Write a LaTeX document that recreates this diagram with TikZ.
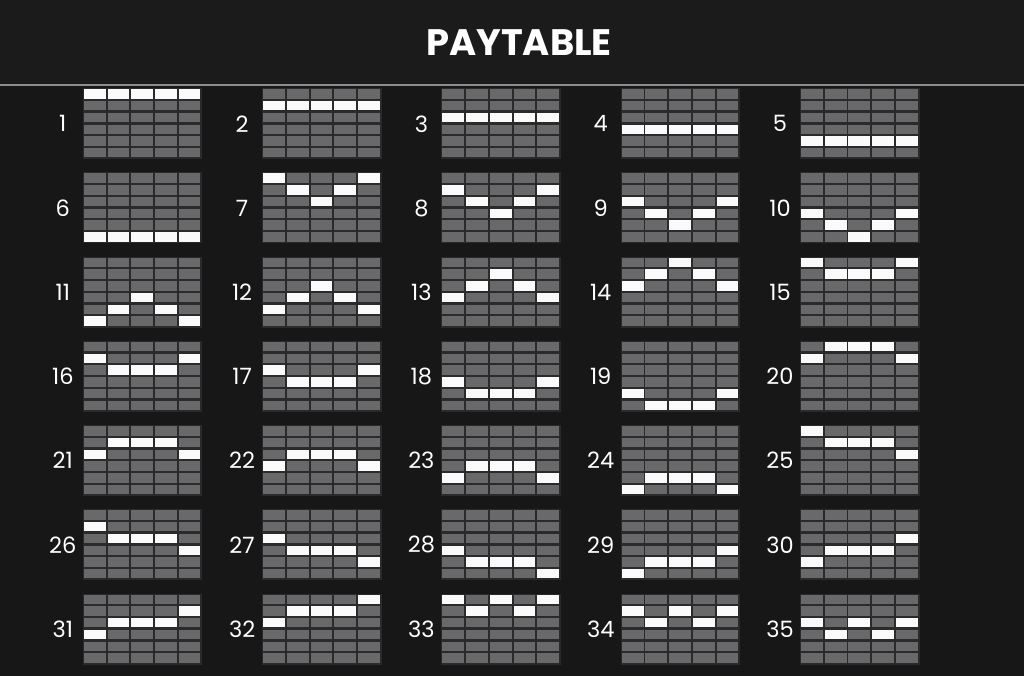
\documentclass[tikz,border=0pt]{standalone}
\usepackage{fontspec}
\setmainfont{Poppins}
\usepackage{xcolor}
\usetikzlibrary{calc,positioning}

\definecolor{bgdark}{HTML}{171717}
\definecolor{headbg}{HTML}{1B1B1B}
\definecolor{rulegrey}{HTML}{8C8C8C}
\definecolor{gridline}{HTML}{2A2A2B}
\definecolor{cellgrey}{HTML}{69696B}
\definecolor{cellwhite}{HTML}{FAFAFA}

\tikzset{
  linenum/.style={text=white, inner sep=0pt, font=\fontsize{16}{18}\selectfont},
  greycell/.style={fill=cellgrey},
  hitcell/.style={fill=cellwhite},
  gridback/.style={fill=gridline}
}

\begin{document}
\begin{tikzpicture}[x=0.25mm, y=-0.25mm]
                        % Background
                        \fill [bgdark] (0,0) rectangle (1024,676);%
                        \fill [headbg] (0,0) rectangle (1024,85);%
                        \useasboundingbox (0,0) rectangle (1024,676);%

                        % Drawing title
                        \node [text=white, inner sep=0pt, font=\bfseries\fontsize{26.2}{28}\selectfont] (title) at (519,43) {PAYTABLE};%

                        % Drawing separator
                        \draw [rulegrey, line width=0.45mm] (0,85) -- (1024,85);%

                        % Drawing the 35 lines: number / row of each reel (0 = top)
                        \foreach \n/\a/\b/\c/\d/\e in {
                          1/0/0/0/0/0, 2/1/1/1/1/1, 3/2/2/2/2/2, 4/3/3/3/3/3, 5/4/4/4/4/4,
                          6/5/5/5/5/5, 7/0/1/2/1/0, 8/1/2/3/2/1, 9/2/3/4/3/2, 10/3/4/5/4/3,
                          11/5/4/3/4/5, 12/4/3/2/3/4, 13/3/2/1/2/3, 14/2/1/0/1/2, 15/0/1/1/1/0,
                          16/1/2/2/2/1, 17/2/3/3/3/2, 18/3/4/4/4/3, 19/4/5/5/5/4, 20/1/0/0/0/1,
                          21/2/1/1/1/2, 22/3/2/2/2/3, 23/4/3/3/3/4, 24/5/4/4/4/5, 25/0/1/1/1/2,
                          26/1/2/2/2/3, 27/2/3/3/3/4, 28/3/4/4/4/5, 29/5/4/4/4/3, 30/4/3/3/3/2,
                          31/3/2/2/2/1, 32/2/1/1/1/0, 33/0/1/0/1/0, 34/1/2/1/2/1, 35/2/3/2/3/2}
                        {
                          \pgfmathtruncatemacro{\cx}{mod(\n-1,5)}
                          \pgfmathtruncatemacro{\ry}{int((\n-1)/5)}
                          \pgfmathsetmacro{\xo}{82.8+179.3*\cx}
                          \pgfmathsetmacro{\yo}{88.3+84.2*\ry}

                          % Marking number
                          \node [linenum] (num\n) at (\xo-20,\yo+35.5) {\n};%

                          % Drawing grid
                          \fill [gridback] (\xo,\yo) rectangle ++(119.6,71);%
                          \foreach \i in {0,...,4}
                            \foreach \j in {0,...,5}
                              \fill [greycell] (\xo+1+\i*23.7,\yo+1+\j*11.75) rectangle ++(21.8,9.4);%

                          % Drawing winning cells
                          \foreach \i/\r in {0/\a,1/\b,2/\c,3/\d,4/\e}
                            \fill [hitcell] (\xo+1+\i*23.7,\yo+1+\r*11.75) rectangle ++(21.8,9.4);%
                        }
\end{tikzpicture}
\end{document}
